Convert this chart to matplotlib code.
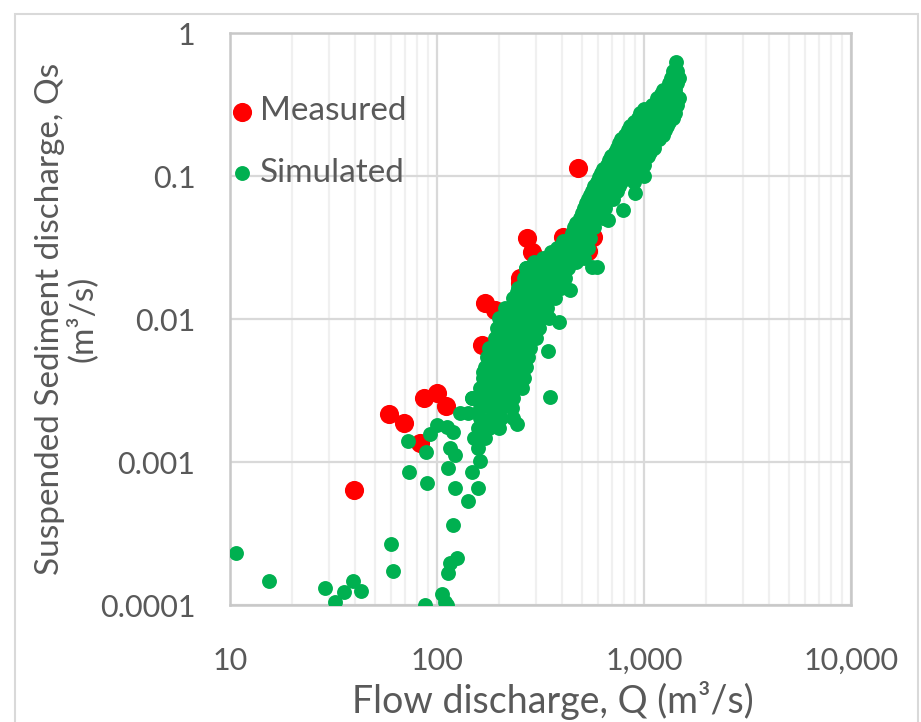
import matplotlib
matplotlib.use('Agg')
import matplotlib.pyplot as plt
from matplotlib.patches import Rectangle
from matplotlib.ticker import FixedLocator, FixedFormatter, LogLocator, NullFormatter

# measured points (Q m3/s, Qs m3/s)
meas_q = [480, 272, 288, 406, 537, 537, 251, 251, 171, 190, 206, 165, 186,
          39.8, 58.6, 69, 86.5, 100, 110, 82.8, 565]
meas_qs = [0.114, 0.0368, 0.0295, 0.0374, 0.040, 0.030, 0.0194, 0.018, 0.0129, 0.0115, 0.0087, 0.0066, 0.0058,
           0.000637, 0.00218, 0.00188, 0.00281, 0.00304, 0.00247, 0.00136, 0.0375]

# simulated points - main band, read level by level
sim_q = [
    1430, 1380, 1445, 1318, 1445, 1230, 1413, 1148, 1288, 1479, 1096, 1259, 1445,
    955, 1072, 1230, 1413, 891, 1000, 1148, 1318, 832, 955, 1096, 1259,
    776, 891, 1023, 1175, 741, 851, 977, 1122, 692, 794, 912, 1047,
    661, 759, 871, 1000, 617, 708, 813, 933, 589, 676, 776, 891,
    562, 646, 741, 537, 617, 708, 513, 575, 646, 490, 550, 631,
    457, 513, 575, 437, 490, 550, 380, 427, 479, 537,
    324, 363, 407, 457, 513, 269, 302, 339, 380, 427,
    263, 295, 331, 372, 417, 245, 275, 309, 347, 398,
    234, 263, 295, 331, 372, 214, 240, 269, 302, 339,
    200, 224, 251, 282, 316, 347, 195, 219, 245, 275, 309,
    191, 214, 240, 269, 302, 178, 200, 224, 251, 282,
    174, 195, 219, 245, 275, 170, 191, 214, 240, 269,
    166, 186, 209, 234, 263, 162, 182, 204, 229, 257,
    148, 166, 186, 209, 234, 162, 182, 204, 229, 162, 182, 204, 234,
    158, 178, 200, 151, 170, 158, 162, 148,
    # in-between rows of the upper band
    1349, 1479, 1202, 1380, 1000, 1148, 1318, 933, 1072, 1230, 1380,
    851, 977, 1122, 1288, 813, 933, 1072, 1230, 759, 871, 1000, 1122,
    724, 832, 955, 1072, 676, 776, 891, 1000, 631, 724, 832, 603, 692, 794,
    575, 661, 759, 550, 631, 525, 603, 501, 575, 468, 537, 447, 513,
    407, 457, 513, 355, 398, 447, 501, 295, 331, 372, 417, 468,
    # outliers
    10.7, 15.4, 28.8, 32.1, 35.6, 39.4, 42.7, 60, 61.6, 87, 106, 112, 109,
    116, 125, 113, 119, 141, 122, 158, 73, 89.5, 72, 88.5, 113, 116, 122,
    92.5, 100, 112, 119, 129, 141, 148, 352, 243, 389, 343, 593, 560, 437,
    243, 269, 906, 794, 670, 1000, 180, 166, 214,
]
sim_qs = [
    0.63, 0.54, 0.54, 0.45, 0.45, 0.40, 0.40, 0.355, 0.355, 0.355, 0.316, 0.316, 0.316,
    0.275, 0.275, 0.275, 0.275, 0.24, 0.24, 0.24, 0.24, 0.209, 0.209, 0.209, 0.209,
    0.182, 0.182, 0.182, 0.182, 0.158, 0.158, 0.158, 0.158, 0.138, 0.138, 0.138, 0.138,
    0.12, 0.12, 0.12, 0.12, 0.105, 0.105, 0.105, 0.105, 0.091, 0.091, 0.091, 0.091,
    0.079, 0.079, 0.079, 0.069, 0.069, 0.069, 0.060, 0.060, 0.060, 0.051, 0.051, 0.051,
    0.044, 0.044, 0.044, 0.037, 0.037, 0.037, 0.0316, 0.0316, 0.0316, 0.0316,
    0.0269, 0.0269, 0.0269, 0.0269, 0.0269, 0.0229, 0.0229, 0.0229, 0.0229, 0.0229,
    0.0195, 0.0195, 0.0195, 0.0195, 0.0195, 0.0166, 0.0166, 0.0166, 0.0166, 0.0166,
    0.0141, 0.0141, 0.0141, 0.0141, 0.0141, 0.012, 0.012, 0.012, 0.012, 0.012,
    0.0102, 0.0102, 0.0102, 0.0102, 0.0102, 0.0102, 0.0087, 0.0087, 0.0087, 0.0087, 0.0087,
    0.0074, 0.0074, 0.0074, 0.0074, 0.0074, 0.0063, 0.0063, 0.0063, 0.0063, 0.0063,
    0.0054, 0.0054, 0.0054, 0.0054, 0.0054, 0.0046, 0.0046, 0.0046, 0.0046, 0.0046,
    0.0039, 0.0039, 0.0039, 0.0039, 0.0039, 0.0033, 0.0033, 0.0033, 0.0033, 0.0033,
    0.0028, 0.0028, 0.0028, 0.0028, 0.0028, 0.0024, 0.0024, 0.0024, 0.0024, 0.00204, 0.00204, 0.00204, 0.00204,
    0.00174, 0.00174, 0.00174, 0.00148, 0.00148, 0.00126, 0.00102, 0.00085,
    # in-between rows of the upper band
    0.49, 0.49, 0.376, 0.376, 0.295, 0.295, 0.295, 0.257, 0.257, 0.257, 0.257,
    0.224, 0.224, 0.224, 0.224, 0.195, 0.195, 0.195, 0.195, 0.17, 0.17, 0.17, 0.17,
    0.148, 0.148, 0.148, 0.148, 0.129, 0.129, 0.129, 0.129, 0.112, 0.112, 0.112, 0.098, 0.098, 0.098,
    0.085, 0.085, 0.085, 0.074, 0.074, 0.065, 0.065, 0.055, 0.055, 0.047, 0.047, 0.040, 0.040,
    0.035, 0.035, 0.035, 0.0295, 0.0295, 0.0295, 0.0295, 0.0251, 0.0251, 0.0251, 0.0251, 0.0251,
    # outliers
    0.000231, 0.000148, 0.000132, 0.000105, 0.000123, 0.000148, 0.000126, 0.000268, 0.000173, 0.0001, 0.00012, 0.0001, 0.000105,
    0.000196, 0.000213, 0.000167, 0.000363, 0.00053, 0.00066, 0.00066, 0.00085, 0.00071, 0.00141, 0.00117, 0.00091, 0.00126, 0.00112,
    0.00158, 0.00182, 0.00176, 0.00162, 0.00219, 0.00219, 0.00282, 0.00285, 0.00186, 0.0095, 0.006, 0.023, 0.023, 0.0159,
    0.0155, 0.0229, 0.076, 0.058, 0.049, 0.1, 0.006, 0.0043, 0.0107,
]

x_ticks = [10, 100, 1000, 10000]
x_tick_labels = ['10', '100', '1,000', '10,000']
y_ticks = [0.0001, 0.001, 0.01, 0.1, 1]
y_tick_labels = ['0.0001', '0.001', '0.01', '0.1', '1']

plt.rcParams['font.family'] = ['Lato', 'DejaVu Sans']
text_col = '#595959'

fig = plt.figure(figsize=(9.21, 7.22), dpi=100)
# light chart-area border like the excel export
fig.patches.append(Rectangle((15 / 921, -0.02), 903 / 921, 0.01 + 715 / 722, transform=fig.transFigure,
                             fill=False, edgecolor='#d9d9d9', linewidth=1.5))
ax = fig.add_axes([0.2497, 0.162, 0.6745, 0.792])

ax.scatter(meas_q, meas_qs, s=190, color='#ff0000', linewidths=0, label='Measured', zorder=3)
ax.scatter(sim_q, sim_qs, s=115, color='#00b050', linewidths=0, label='Simulated', zorder=4)

ax.set_xscale('log')
ax.set_yscale('log')
ax.set_xlim(10, 10000)
ax.set_ylim(0.0001, 1)

ax.xaxis.set_major_locator(FixedLocator(x_ticks))
ax.xaxis.set_major_formatter(FixedFormatter(x_tick_labels))
ax.xaxis.set_minor_locator(LogLocator(base=10, subs=range(2, 10)))
ax.xaxis.set_minor_formatter(NullFormatter())
ax.yaxis.set_major_locator(FixedLocator(y_ticks))
ax.yaxis.set_major_formatter(FixedFormatter(y_tick_labels))
ax.yaxis.set_minor_locator(plt.NullLocator())

ax.grid(True, which='major', color='#d9d9d9', linewidth=1.6, zorder=0)
ax.grid(True, which='minor', axis='x', color='#f0f0f0', linewidth=1.6, zorder=0)
ax.set_axisbelow(True)

for sp in ax.spines.values():
    sp.set_color('#c8c8c8')
    sp.set_linewidth(1.8)

ax.tick_params(which='both', length=0, labelsize=22, labelcolor=text_col)
ax.tick_params(axis='x', pad=30)
ax.tick_params(axis='y', pad=25)

ax.set_xlabel('Flow discharge, Q (m³/s)', fontsize=27, color=text_col)
ax.xaxis.set_label_coords(0.52, -0.133)
ax.set_ylabel('Suspended Sediment discharge, Qs\n(m³/s)', fontsize=24, color=text_col, linespacing=1.05)
ax.yaxis.set_label_coords(-0.213, 0.5)

leg = ax.legend(loc='upper left', bbox_to_anchor=(-0.043, 0.942), frameon=False,
                fontsize=24, labelspacing=0.95, handlelength=0.5, handletextpad=0.3)
for t in leg.get_texts():
    t.set_color(text_col)

fig.savefig('out.png', dpi=100)
